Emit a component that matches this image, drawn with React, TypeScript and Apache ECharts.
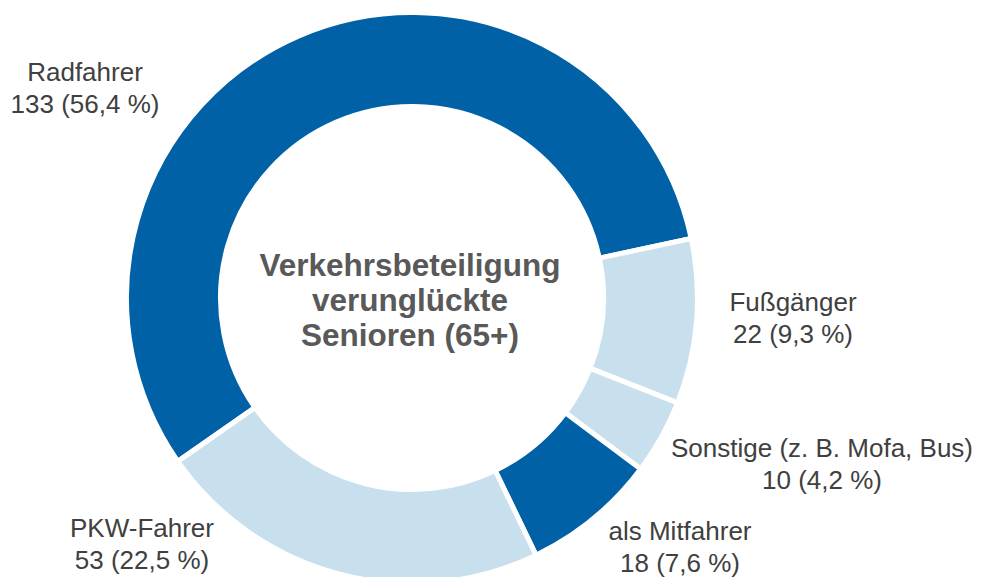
import React, { useEffect, useRef } from "react";
import * as echarts from "echarts";

const categories = ["Radfahrer", "Fußgänger", "Sonstige (z. B. Mofa, Bus)", "als Mitfahrer", "PKW-Fahrer"];
const values = [133, 22, 10, 18, 53];
const sliceColors = ["#0061a7", "#c8e0ee", "#c8e0ee", "#0061a7", "#c8e0ee"];
const labelPositions = [
  [85, 88],
  [793, 318],
  [822, 464],
  [680, 547],
  [142, 544],
];
const centerTitle = "Verkehrsbeteiligung\nverunglückte\nSenioren (65+)";

export default function App() {
  const ref = useRef<HTMLDivElement>(null);
  useEffect(() => {
    if (!ref.current) return;
    const chart = echarts.init(ref.current, undefined, { renderer: "svg" });
    const total = values.reduce((a, b) => a + b, 0);
    chart.setOption({
      animation: false,
      backgroundColor: "#ffffff",
      graphic: [
        {
          type: "text",
          x: 410,
          y: 300,
          style: {
            text: centerTitle,
            align: "center",
            verticalAlign: "middle",
            fontFamily: "Liberation Sans, Arial, sans-serif",
            fontWeight: "bold",
            fontSize: 31.5,
            lineHeight: 35,
            fill: "#595959",
          },
        },
      ],
      series: [
        {
          type: "pie",
          center: [412, 298],
          radius: [191.5, 285.5],
          startAngle: 214.9,
          clockwise: true,
          avoidLabelOverlap: false,
          itemStyle: { borderColor: "#ffffff", borderWidth: 5 },
          emphasis: { disabled: true },
          label: {
            show: true,
            position: "outside",
            fontFamily: "Liberation Sans, Arial, sans-serif",
            fontSize: 26,
            lineHeight: 32,
            color: "#404040",
            align: "center",
            formatter: (p: any) =>
              `${p.name}\n${p.value} (${((p.value / total) * 100).toFixed(1).replace(".", ",")} %)`,
          },
          labelLine: { show: false },
          labelLayout: (params: any) => {
            const pos = labelPositions[params.dataIndex];
            return { x: pos[0], y: pos[1], align: "center", verticalAlign: "middle", moveOverlap: false };
          },
          data: categories.map((name, i) => ({
            name,
            value: values[i],
            itemStyle: { color: sliceColors[i] },
          })),
        },
      ],
    });
    return () => chart.dispose();
  }, []);
  return (
    <div
      ref={ref}
      style={{ position: "fixed", left: 0, top: 0, width: 983, height: 577, background: "#fff" }}
    />
  );
}
